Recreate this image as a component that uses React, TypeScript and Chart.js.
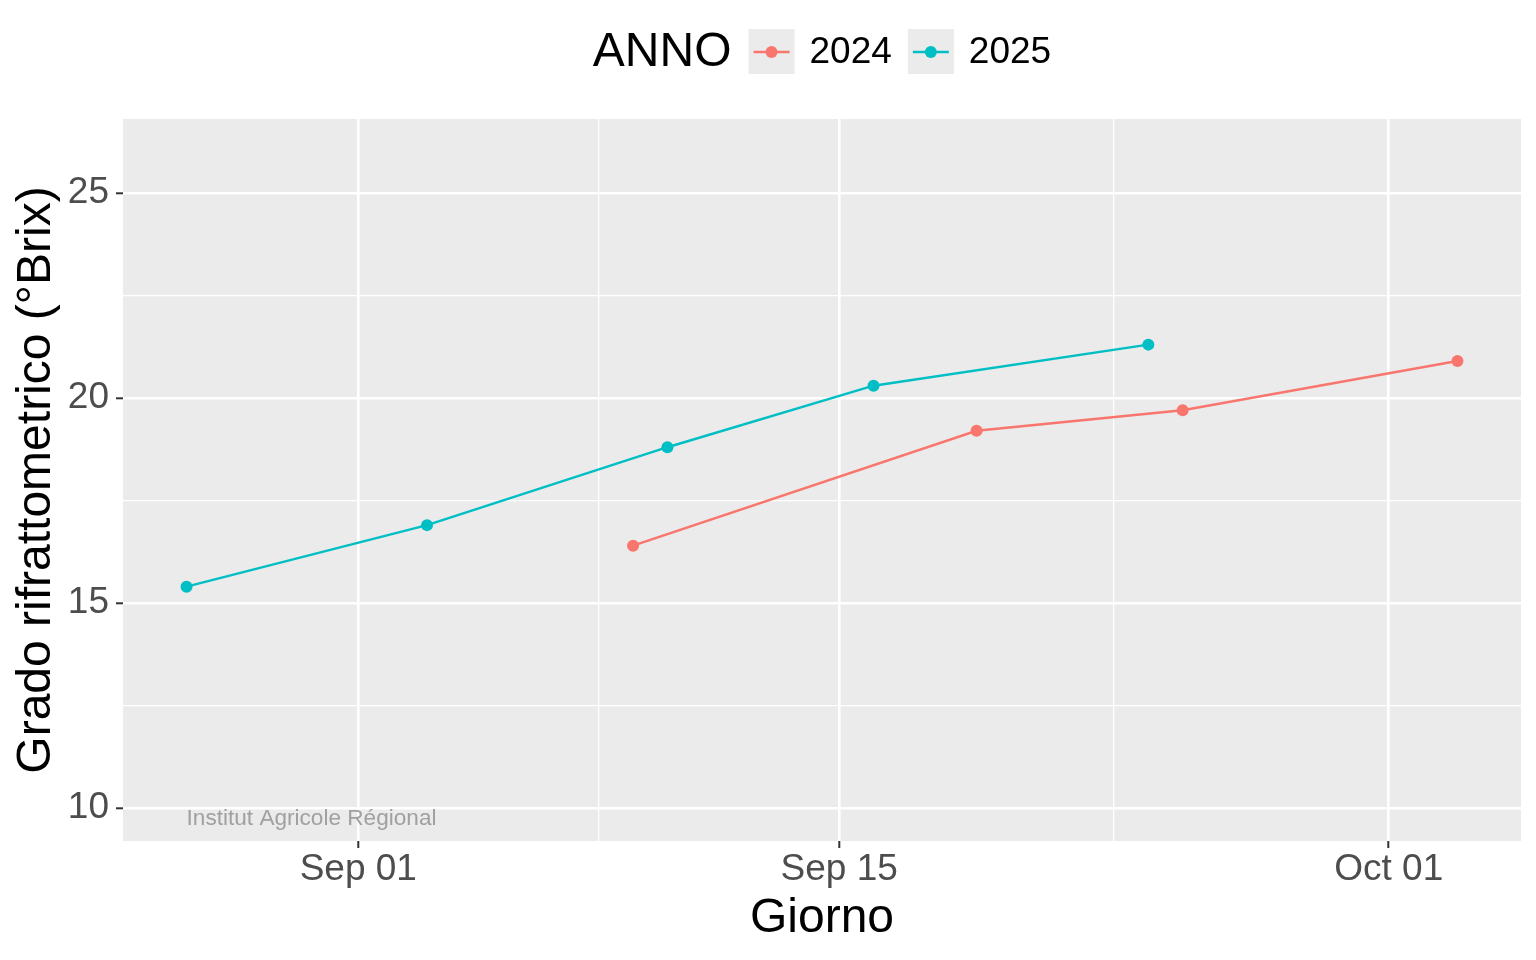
import { useEffect, useRef } from "react"
import { Chart, registerables, type ChartConfiguration, type Plugin } from "chart.js"

Chart.register(...registerables)

// data (month-day, °Brix)
const years = ["2024", "2025"]
const yearColors = ["#F8766D", "#00BFC4"]

const days2024 = ["09-09", "09-19", "09-25", "10-03"]
const brix2024 = [16.4, 19.2, 19.7, 20.9]

const days2025 = ["08-27", "09-03", "09-10", "09-16", "09-24"]
const brix2025 = [15.4, 16.9, 18.8, 20.3, 21.3]

const xMajorTicks = ["09-01", "09-15", "10-01"]
const xMinorTicks = ["09-08", "09-23"]
const yMajorTicks = [10, 15, 20, 25]
const yMinorTicks = [12.5, 17.5, 22.5]
const yLimits = [10, 26]

const watermarkText = "Institut Agricole Régional"
const watermarkDay = "08-27"
const watermarkY = 9.73

const FONT = '"Liberation Sans", Arial, Helvetica, sans-serif'
const MONTHS = ["Jan", "Feb", "Mar", "Apr", "May", "Jun", "Jul", "Aug", "Sep", "Oct", "Nov", "Dec"]

const ORIGIN = Date.UTC(2001, 8, 1)
const DAY = 86400000

function toDay(md: string) {
  const [m, d] = md.split("-").map(Number)
  return Math.round((Date.UTC(2001, m - 1, d) - ORIGIN) / DAY)
}

function dayLabel(v: number) {
  const dt = new Date(ORIGIN + v * DAY)
  return `${MONTHS[dt.getUTCMonth()]} ${String(dt.getUTCDate()).padStart(2, "0")}`
}

const xMajor = xMajorTicks.map(toDay)
const xMinor = xMinorTicks.map(toDay)

const allDays = [...days2024, ...days2025].map(toDay)
const xLo = Math.min(...allDays)
const xHi = Math.max(...allDays)
const xPad = (xHi - xLo) * 0.05
const yPad = (yLimits[1] - yLimits[0]) * 0.05

const panelPlugin: Plugin = {
  id: "panelBg",
  beforeDraw(chart) {
    const { ctx, chartArea, width, height } = chart
    ctx.save()
    ctx.fillStyle = "#FFFFFF"
    ctx.fillRect(0, 0, width, height)
    ctx.fillStyle = "#EBEBEB"
    ctx.fillRect(chartArea.left, chartArea.top, chartArea.right - chartArea.left, chartArea.bottom - chartArea.top)
    ctx.restore()
  },
}

const watermarkPlugin: Plugin = {
  id: "watermark",
  afterDatasetsDraw(chart) {
    const { ctx, scales } = chart
    ctx.save()
    ctx.font = `22.6px ${FONT}`
    ctx.fillStyle = "#A0A0A0"
    ctx.textAlign = "left"
    ctx.textBaseline = "middle"
    ctx.fillText(watermarkText, scales.x.getPixelForValue(toDay(watermarkDay)), scales.y.getPixelForValue(watermarkY))
    ctx.restore()
  },
}

const legendPlugin: Plugin = {
  id: "ggLegend",
  afterDraw(chart) {
    const { ctx, chartArea } = chart
    const cx = (chartArea.left + chartArea.right) / 2
    const cy = 52
    const key = 46
    ctx.save()
    ctx.font = `48px ${FONT}`
    const titleW = ctx.measureText("ANNO").width
    ctx.font = `37px ${FONT}`
    const labelW = years.map((y) => ctx.measureText(y).width)
    let total = titleW
    years.forEach((_, i) => {
      total += (i === 0 ? 17 : 16) + key + 15 + labelW[i]
    })
    let x = cx - total / 2
    ctx.textBaseline = "middle"
    ctx.textAlign = "left"
    ctx.fillStyle = "#000000"
    ctx.font = `48px ${FONT}`
    ctx.fillText("ANNO", x, cy + 1)
    x += titleW
    years.forEach((y, i) => {
      x += i === 0 ? 17 : 16
      ctx.fillStyle = "#EBEBEB"
      ctx.fillRect(x, cy - key / 2, key, key - 1)
      ctx.strokeStyle = yearColors[i]
      ctx.lineWidth = 2.5
      ctx.beginPath()
      ctx.moveTo(x + 5, cy)
      ctx.lineTo(x + key - 5, cy)
      ctx.stroke()
      ctx.fillStyle = yearColors[i]
      ctx.beginPath()
      ctx.arc(x + key / 2, cy, 6, 0, Math.PI * 2)
      ctx.fill()
      x += key + 15
      ctx.fillStyle = "#000000"
      ctx.font = `37px ${FONT}`
      ctx.fillText(y, x, cy + 1)
      x += labelW[i]
    })
    ctx.restore()
  },
}

export default function App() {
  const canvasRef = useRef<HTMLCanvasElement>(null)
  const chartRef = useRef<Chart | null>(null)

  useEffect(() => {
    document.body.style.margin = "0"
    if (!canvasRef.current) return
    if (chartRef.current) chartRef.current.destroy()
    const ctx = canvasRef.current.getContext("2d")
    if (!ctx) return

    const config: ChartConfiguration = {
      type: "line",
      data: {
        datasets: [
          {
            label: years[0],
            data: days2024.map((d, i) => ({ x: toDay(d), y: brix2024[i] })),
            borderColor: yearColors[0],
            backgroundColor: yearColors[0],
            borderWidth: 2.5,
            pointRadius: 6,
            pointBorderWidth: 0,
            pointHoverRadius: 6,
            tension: 0,
          },
          {
            label: years[1],
            data: days2025.map((d, i) => ({ x: toDay(d), y: brix2025[i] })),
            borderColor: yearColors[1],
            backgroundColor: yearColors[1],
            borderWidth: 2.5,
            pointRadius: 6,
            pointBorderWidth: 0,
            pointHoverRadius: 6,
            tension: 0,
          },
        ],
      },
      options: {
        responsive: true,
        maintainAspectRatio: false,
        animation: false,
        layout: { padding: { top: 119, right: 15, left: 0, bottom: 0 } },
        plugins: {
          legend: { display: false },
          tooltip: { enabled: false },
        },
        scales: {
          x: {
            type: "linear",
            min: xLo - xPad,
            max: xHi + xPad,
            afterBuildTicks: (scale) => {
              scale.ticks = [...xMajor, ...xMinor].sort((a, b) => a - b).map((value) => ({ value }))
            },
            afterFit: (scale) => {
              scale.height = 119
            },
            border: { display: false },
            grid: {
              color: "#FFFFFF",
              lineWidth: (c) => (xMajor.includes(c.tick?.value) ? 2.6 : 1.3),
              tickColor: (c) => (xMajor.includes(c.tick?.value) ? "#333333" : "rgba(0,0,0,0)"),
              tickLength: 7,
              tickWidth: 2,
            },
            ticks: {
              autoSkip: false,
              maxRotation: 0,
              padding: 3,
              color: "#4D4D4D",
              font: { family: FONT, size: 37, lineHeight: 1 },
              callback: (v) => (xMajor.includes(Number(v)) ? dayLabel(Number(v)) : ""),
            },
            title: {
              display: true,
              text: "Giorno",
              color: "#000000",
              font: { family: FONT, size: 48, lineHeight: 1 },
              padding: { top: 0, bottom: 17 },
            },
          },
          y: {
            type: "linear",
            min: yLimits[0] - yPad,
            max: yLimits[1] + yPad,
            afterBuildTicks: (scale) => {
              scale.ticks = [...yMajorTicks, ...yMinorTicks].sort((a, b) => a - b).map((value) => ({ value }))
            },
            afterFit: (scale) => {
              scale.width = 123
            },
            border: { display: false },
            grid: {
              color: "#FFFFFF",
              lineWidth: (c) => (yMajorTicks.includes(c.tick?.value) ? 2.6 : 1.3),
              tickColor: (c) => (yMajorTicks.includes(c.tick?.value) ? "#333333" : "rgba(0,0,0,0)"),
              tickLength: 7,
              tickWidth: 2,
            },
            ticks: {
              autoSkip: false,
              padding: 7,
              color: "#4D4D4D",
              font: { family: FONT, size: 37, lineHeight: 1 },
              callback: (v) => (yMajorTicks.includes(Number(v)) ? String(v) : ""),
            },
            title: {
              display: true,
              text: "Grado rifrattometrico (°Brix)",
              color: "#000000",
              font: { family: FONT, size: 48, lineHeight: 1 },
              padding: { top: 13, bottom: 0 },
            },
          },
        },
      },
      plugins: [panelPlugin, watermarkPlugin, legendPlugin],
    }

    chartRef.current = new Chart(ctx, config)

    return () => {
      if (chartRef.current) {
        chartRef.current.destroy()
        chartRef.current = null
      }
    }
  }, [])

  return (
    <div style={{ position: "absolute", left: 0, top: 0, width: 1536, height: 960 }}>
      <canvas ref={canvasRef}></canvas>
    </div>
  )
}
